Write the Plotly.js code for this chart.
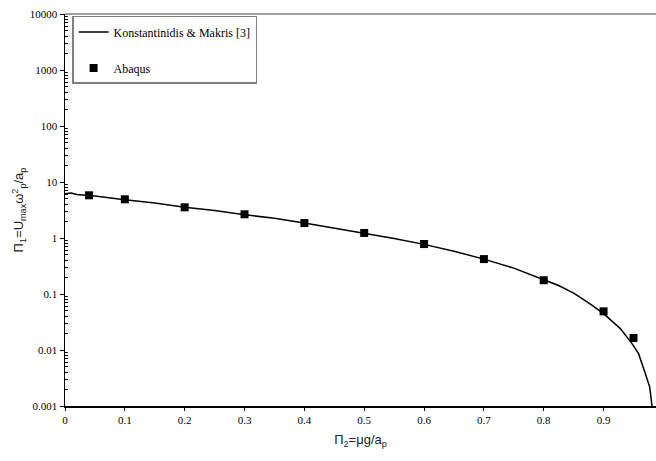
<!DOCTYPE html>
<html>
<head>
<meta charset="utf-8">
<script src="https://cdn.plot.ly/plotly-3.0.1.min.js"></script>
<style>html,body{margin:0;padding:0;background:#fff;}#chart{width:656px;height:461px;}</style>
</head>
<body>
<div id="chart"></div>
<script>
// Konstantinidis & Makris [3] curve
var curveX = [0, 0.01, 0.02, 0.05, 0.1, 0.15, 0.2, 0.25, 0.3, 0.35, 0.4, 0.45, 0.5, 0.55, 0.6, 0.65, 0.7, 0.75, 0.8, 0.825, 0.85, 0.865, 0.878, 0.9, 0.928, 0.9475, 0.9585, 0.9697, 0.977, 0.981];
var curveY = [6.2, 6.35, 6.0, 5.6, 4.8, 4.2, 3.55, 3.1, 2.6, 2.25, 1.85, 1.5, 1.2, 0.98, 0.77, 0.58, 0.42, 0.29, 0.18, 0.142, 0.104, 0.083, 0.066, 0.0447, 0.0241, 0.013, 0.0086, 0.0038, 0.0022, 0.001];
// Abaqus results
var abaqusX = [0.04, 0.1, 0.2, 0.3, 0.4, 0.5, 0.6, 0.7, 0.8, 0.9, 0.95];
var abaqusY = [5.79, 4.91, 3.53, 2.65, 1.85, 1.23, 0.78, 0.42, 0.176, 0.049, 0.0164];
// axis ticks
var yTickVals = [0.001, 0.01, 0.1, 1, 10, 100, 1000, 10000];
var yTickText = ["0.001", "0.01", "0.1", "1", "10", "100", "1000", "10000"];
var xTickVals = [0, 0.1, 0.2, 0.3, 0.4, 0.5, 0.6, 0.7, 0.8, 0.9];
var xTickText = ["0", "0.1", "0.2", "0.3", "0.4", "0.5", "0.6", "0.7", "0.8", "0.9"];

// minor log ticks (2..9 in each decade)
var yMinorVals = [];
for (var d = 0; d < yTickVals.length - 1; d++) {
  for (var m = 2; m <= 9; m++) yMinorVals.push(yTickVals[d] * m);
}

var serif = "Liberation Serif";
var sans = "Liberation Sans";

var traces = [
  {x: curveX, y: curveY, mode: "lines", name: "Konstantinidis & Makris [3]",
   line: {color: "#000", width: 1.5}, legendgroup: "a"},
  {x: abaqusX, y: abaqusY, yaxis: "y2", mode: "markers", name: "Abaqus",
   marker: {symbol: "square", size: 8, color: "#000"}, legendgroup: "b"}
];

var layout = {
  width: 656, height: 461,
  margin: {l: 65, r: 0, t: 14, b: 55},
  paper_bgcolor: "#fff", plot_bgcolor: "#fff",
  showlegend: true,
  legend: {
    x: 0.012, y: 0.995, xanchor: "left", yanchor: "top",
    bgcolor: "#fff", bordercolor: "#808080", borderwidth: 1.5,
    font: {family: serif, size: 12, color: "#000"},
    traceorder: "grouped", tracegroupgap: 17, itemwidth: 30
  },
  xaxis: {
    range: [0, 0.9876], showgrid: false, zeroline: false,
    showline: true, linecolor: "#000", linewidth: 1.5,
    ticks: "outside", ticklen: 3, tickcolor: "#000",
    tickvals: xTickVals, ticktext: xTickText,
    tickfont: {family: serif, size: 11, color: "#000"},
    title: {text: "Π<sub>2</sub>=μg/a<sub>p</sub>", font: {family: sans, size: 13, color: "#222"}, standoff: 10}
  },
  yaxis: {
    type: "log", range: [-3, 4], showgrid: false, zeroline: false,
    showline: true, linecolor: "#000", linewidth: 1.5,
    ticks: "outside", ticklen: 4, tickcolor: "#000",
    tickvals: yTickVals, ticktext: yTickText,
    tickfont: {family: serif, size: 11, color: "#000"},
    title: {text: "Π<sub>1</sub>=U<sub>max</sub>ω<sup>2</sup><sub>p</sub>/a<sub>p</sub>", font: {family: sans, size: 13, color: "#222"}, standoff: 3}
  },
  yaxis2: {
    type: "log", range: [-3, 4], overlaying: "y", side: "left", anchor: "x",
    showgrid: false, zeroline: false, showline: false,
    tickmode: "array", tickvals: yMinorVals, showticklabels: false,
    ticks: "inside", ticklen: 3, tickcolor: "#000", tickwidth: 1
  },
  shapes: [
    {type: "line", xref: "paper", yref: "paper", x0: 0, x1: 1, y0: 1, y1: 1,
     line: {color: "#808080", width: 1.5}}
  ]
};

Plotly.newPlot("chart", traces, layout, {displayModeBar: false, staticPlot: true});
</script>
</body>
</html>
